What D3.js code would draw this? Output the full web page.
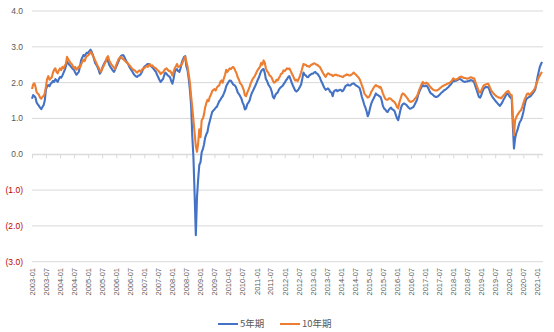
<!DOCTYPE html>
<html><head><meta charset="utf-8">
<script src="https://cdn.jsdelivr.net/npm/d3@7/dist/d3.min.js"></script>
<style>body{margin:0;background:#fff}svg{display:block}</style>
</head><body><svg id="c" width="554" height="332"></svg>
<script>
// semi-monthly observations starting 2003-01 (1st and 16th of each month)
const startYear = 2003;
const seriesNames = ["5年期", "10年期"];
const yTicks = [-3, -2, -1, 0, 1, 2, 3, 4];
const xTickLabels = ["2003-01","2003-07","2004-01","2004-07","2005-01","2005-07","2006-01","2006-07","2007-01","2007-07","2008-01","2008-07","2009-01","2009-07","2010-01","2010-07","2011-01","2011-07","2012-01","2012-07","2013-01","2013-07","2014-01","2014-07","2015-01","2015-07","2016-01","2016-07","2017-01","2017-07","2018-01","2018-07","2019-01","2019-07","2020-01","2020-07","2021-01"];

const be5 = [
1.55,1.65,1.62,1.58,1.45,1.40,1.35,1.30,1.26,1.32,1.37,1.50,1.80,1.90,1.93,1.90,1.97,2.00,2.05,2.02,2.10,2.06,2.02,2.10,
2.16,2.14,2.20,2.28,2.35,2.45,2.58,2.54,2.50,2.46,2.42,2.38,2.35,2.28,2.22,2.26,2.30,2.45,2.63,2.70,2.77,2.74,2.80,2.84,
2.82,2.88,2.92,2.86,2.78,2.68,2.55,2.50,2.44,2.36,2.25,2.30,2.40,2.48,2.55,2.60,2.67,2.60,2.50,2.44,2.39,2.34,2.30,2.36,
2.45,2.52,2.60,2.68,2.74,2.76,2.77,2.72,2.65,2.58,2.53,2.46,2.40,2.35,2.30,2.24,2.20,2.17,2.16,2.20,2.20,2.24,2.30,2.38,
2.44,2.47,2.50,2.52,2.52,2.48,2.45,2.42,2.39,2.34,2.30,2.22,2.15,2.08,2.02,2.06,2.10,2.20,2.28,2.25,2.20,2.18,2.15,2.05,
1.97,2.10,2.30,2.36,2.38,2.32,2.30,2.40,2.55,2.64,2.72,2.74,2.45,2.35,2.10,1.80,1.35,0.50,-0.10,-1.10,-2.26,-1.20,-0.70,-0.30,
-0.22,0.05,0.15,0.28,0.45,0.55,0.62,0.80,0.92,1.05,1.18,1.22,1.25,1.30,1.32,1.40,1.48,1.52,1.58,1.62,1.70,1.78,1.90,1.96,
2.02,2.06,2.05,2.00,1.95,1.93,1.90,1.82,1.72,1.68,1.62,1.56,1.45,1.38,1.25,1.28,1.40,1.44,1.50,1.62,1.72,1.78,1.85,1.92,
2.00,2.08,2.15,2.25,2.32,2.36,2.38,2.28,2.10,2.05,1.95,1.90,1.85,1.75,1.60,1.56,1.65,1.70,1.72,1.80,1.85,1.88,1.90,1.95,
2.00,2.06,2.10,2.16,2.18,2.10,2.00,1.92,1.85,1.78,1.75,1.78,1.82,1.88,1.95,2.10,2.28,2.22,2.20,2.16,2.15,2.20,2.22,2.25,
2.25,2.28,2.30,2.26,2.25,2.20,2.15,2.06,2.00,1.92,1.85,1.80,1.82,1.84,1.80,1.74,1.72,1.62,1.75,1.78,1.80,1.76,1.78,1.80,
1.80,1.76,1.78,1.84,1.90,1.92,1.95,1.92,1.92,1.95,1.97,1.98,1.95,1.92,1.90,1.88,1.85,1.74,1.60,1.50,1.38,1.30,1.20,1.06,
1.15,1.30,1.42,1.50,1.55,1.62,1.70,1.66,1.65,1.62,1.60,1.50,1.35,1.28,1.25,1.20,1.18,1.24,1.28,1.30,1.25,1.24,1.20,1.10,
1.00,0.95,1.10,1.25,1.35,1.40,1.42,1.40,1.38,1.34,1.30,1.27,1.28,1.30,1.32,1.38,1.45,1.52,1.65,1.74,1.82,1.88,1.93,1.90,
1.90,1.92,1.88,1.82,1.75,1.70,1.68,1.65,1.62,1.60,1.60,1.62,1.65,1.68,1.72,1.74,1.78,1.80,1.82,1.85,1.88,1.92,1.95,2.00,
2.05,2.04,2.05,2.06,2.08,2.10,2.10,2.08,2.05,2.03,2.02,2.03,2.03,2.05,2.05,2.07,2.06,2.04,2.00,1.90,1.80,1.70,1.60,1.58,
1.65,1.75,1.83,1.86,1.88,1.87,1.88,1.80,1.70,1.64,1.58,1.54,1.50,1.46,1.42,1.38,1.35,1.40,1.45,1.52,1.58,1.64,1.70,1.68,
1.62,1.58,1.55,0.76,0.16,0.45,0.60,0.68,0.80,0.90,0.95,1.05,1.18,1.35,1.50,1.56,1.58,1.60,1.62,1.66,1.70,1.75,1.80,1.95,
2.15,2.30,2.44,2.52,2.58
];

const be10 = [
1.82,1.95,1.98,1.88,1.74,1.70,1.66,1.58,1.55,1.60,1.63,1.70,1.88,2.10,2.18,2.08,2.12,2.15,2.28,2.36,2.40,2.30,2.26,2.34,
2.40,2.35,2.44,2.40,2.47,2.52,2.72,2.65,2.60,2.55,2.52,2.46,2.40,2.44,2.36,2.40,2.45,2.42,2.50,2.58,2.64,2.60,2.70,2.74,
2.76,2.80,2.86,2.82,2.76,2.70,2.62,2.55,2.48,2.42,2.34,2.30,2.38,2.44,2.52,2.58,2.70,2.74,2.62,2.56,2.50,2.46,2.42,2.38,
2.50,2.58,2.66,2.70,2.72,2.68,2.66,2.62,2.60,2.56,2.54,2.50,2.46,2.42,2.38,2.35,2.34,2.30,2.28,2.32,2.34,2.30,2.36,2.40,
2.40,2.44,2.46,2.44,2.48,2.52,2.46,2.48,2.44,2.42,2.40,2.36,2.33,2.30,2.24,2.28,2.28,2.34,2.38,2.40,2.36,2.32,2.33,2.28,
2.20,2.30,2.40,2.46,2.52,2.44,2.45,2.48,2.50,2.58,2.66,2.72,2.58,2.45,2.22,2.00,1.62,1.30,0.95,0.60,0.22,0.07,0.30,0.70,
0.48,0.95,1.00,1.12,1.30,1.42,1.52,1.48,1.60,1.66,1.76,1.80,1.82,1.78,1.86,1.90,1.92,2.02,2.06,2.00,2.12,2.22,2.36,2.30,
2.35,2.40,2.38,2.42,2.44,2.40,2.32,2.25,2.14,2.08,1.98,1.95,1.88,1.80,1.65,1.62,1.72,1.80,1.88,1.98,2.06,2.12,2.16,2.22,
2.30,2.36,2.40,2.46,2.55,2.50,2.62,2.56,2.40,2.32,2.28,2.20,2.18,2.14,2.05,2.00,2.02,2.08,2.06,2.12,2.18,2.25,2.26,2.34,
2.32,2.36,2.40,2.38,2.40,2.34,2.26,2.20,2.12,2.06,2.08,2.04,2.10,2.18,2.28,2.40,2.52,2.50,2.50,2.46,2.46,2.44,2.48,2.50,
2.52,2.54,2.53,2.50,2.50,2.46,2.44,2.38,2.32,2.26,2.20,2.16,2.22,2.26,2.25,2.22,2.22,2.18,2.20,2.22,2.22,2.20,2.20,2.18,
2.18,2.16,2.16,2.20,2.20,2.23,2.22,2.20,2.20,2.22,2.25,2.28,2.25,2.22,2.18,2.15,2.10,2.02,1.92,1.84,1.70,1.66,1.62,1.58,
1.60,1.66,1.75,1.80,1.85,1.90,1.93,1.90,1.90,1.86,1.88,1.80,1.70,1.62,1.55,1.52,1.52,1.56,1.56,1.54,1.50,1.48,1.45,1.40,
1.32,1.28,1.45,1.55,1.65,1.70,1.68,1.64,1.60,1.56,1.50,1.47,1.46,1.48,1.50,1.54,1.58,1.62,1.70,1.80,1.88,1.96,2.02,1.98,
1.98,2.00,1.98,1.94,1.90,1.86,1.83,1.80,1.79,1.78,1.78,1.80,1.82,1.85,1.88,1.90,1.92,1.94,1.95,1.97,1.98,2.00,2.02,2.06,
2.12,2.10,2.08,2.10,2.11,2.14,2.16,2.17,2.15,2.13,2.13,2.12,2.11,2.12,2.13,2.15,2.14,2.12,2.12,2.02,1.92,1.84,1.75,1.72,
1.78,1.85,1.92,1.94,1.95,1.96,1.97,1.90,1.82,1.76,1.72,1.68,1.65,1.62,1.60,1.58,1.58,1.56,1.60,1.64,1.68,1.72,1.75,1.77,
1.72,1.66,1.65,1.04,0.53,0.95,1.04,1.10,1.15,1.20,1.23,1.32,1.42,1.52,1.60,1.68,1.70,1.66,1.68,1.72,1.75,1.80,1.85,1.95,
2.05,2.14,2.20,2.26,2.30
];

const colors = ["#4472C4", "#ED7D31"];
const dateOf = i => new Date(startYear, Math.floor(i / 2), i % 2 ? 16 : 1);

const svg = d3.select("#c");
const x = d3.scaleTime().domain([new Date(2003,0,1), new Date(2021,0,1)]).range([32, 537.5]);
const y = d3.scaleLinear().domain([-3, 4]).range([261.7, 11]);
const xLeft = 32, xRight = 543;

// gridlines
svg.append("g").selectAll("line").data(yTicks).join("line")
  .attr("x1", xLeft).attr("x2", xRight)
  .attr("y1", d => y(d)).attr("y2", d => y(d))
  .attr("stroke", "#d9d9d9").attr("stroke-width", 1);

// y labels
svg.append("g").selectAll("text").data(yTicks).join("text")
  .attr("x", 23).attr("y", d => y(d)).attr("dy", "0.35em")
  .attr("text-anchor", "end")
  .attr("font-family", "Liberation Sans, Arial, sans-serif").attr("font-size", 8.5)
  .attr("fill", d => d < 0 ? "#c00000" : "#595959")
  .text(d => d < 0 ? "(" + Math.abs(d).toFixed(1) + ")" : d.toFixed(1));

// x axis on zero line
const parse = d3.timeParse("%Y-%m");
const tickDates = xTickLabels.map(parse);
const y0 = y(0);
const xAxis = d3.axisBottom(x).tickValues(tickDates).tickSize(4).tickFormat(d3.timeFormat("%Y-%m"));
const gx = svg.append("g").attr("transform", `translate(0,${y0})`).call(xAxis);
gx.select(".domain").attr("stroke", "#d9d9d9").attr("d", `M${xLeft},0.5H${xRight}`);
gx.selectAll(".tick line").attr("stroke", "#d9d9d9");
gx.selectAll(".tick text")
  .attr("transform", `translate(0,${268 - y0}) rotate(-90)`)
  .attr("x", 0).attr("y", 0).attr("dy", "0.32em")
  .attr("text-anchor", "end")
  .attr("font-family", "Liberation Sans, Arial, sans-serif").attr("font-size", 7.5)
  .attr("fill", "#595959");

// lines
const line = d3.line().x((d, i) => x(dateOf(i))).y(d => y(d));
[be5, be10].forEach((s, k) => {
  svg.append("path").datum(s).attr("d", line)
    .attr("fill", "none").attr("stroke", colors[k])
    .attr("stroke-width", 2.1).attr("stroke-linejoin", "round");
});

// legend
const legX = [218, 280];
seriesNames.forEach((n, k) => {
  svg.append("line").attr("x1", legX[k]).attr("x2", legX[k] + 20)
    .attr("y1", 324).attr("y2", 324).attr("stroke", colors[k]).attr("stroke-width", 2);
  svg.append("text").attr("x", legX[k] + 22).attr("y", 324).attr("dy", "0.35em")
    .attr("font-family", "Noto Sans CJK SC, sans-serif").attr("font-size", 9.5)
    .attr("fill", "#595959").text(n);
});
</script></body></html>
